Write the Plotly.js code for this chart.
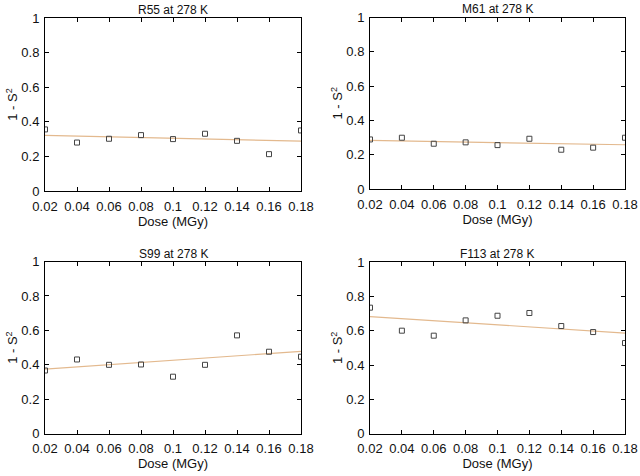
<!DOCTYPE html>
<html><head><meta charset="utf-8">
<script src="https://cdn.plot.ly/plotly-3.0.1.min.js"></script>
<style>html,body{margin:0;padding:0;background:#fff}#c{width:640px;height:476px}</style>
</head><body><div id="c"></div>
<script>
const dose = [0.02,0.04,0.06,0.08,0.10,0.12,0.14,0.16,0.18];
const titles = ["R55 at 278 K","M61 at 278 K","S99 at 278 K","F113 at 278 K"];
const r55 = [0.356,0.280,0.302,0.323,0.300,0.331,0.290,0.213,0.350];
const m61 = [0.289,0.299,0.264,0.272,0.256,0.293,0.229,0.241,0.299];
const s99 = [0.367,0.431,0.400,0.402,0.331,0.400,0.571,0.476,0.447];
const f113 = [0.734,0.600,0.571,0.660,0.687,0.703,0.627,0.592,0.528];
const fitX = [0.02,0.18];
const r55Fit = [0.321,0.288];
const m61Fit = [0.283,0.258];
const s99Fit = [0.375,0.478];
const f113Fit = [0.682,0.586];
const xTicks = [0.02,0.04,0.06,0.08,0.1,0.12,0.14,0.16,0.18];
const yTicks = [0,0.2,0.4,0.6,0.8,1];

const series = [r55,m61,s99,f113];
const fits = [r55Fit,m61Fit,s99Fit,f113Fit];
const xDom = [[45/640,301/640],[370/640,625/640],[45/640,301/640],[370/640,625/640]];
const yDom = [[1-191/476,1-18/476],[1-189/476,1-17.5/476],[1-433.7/476,1-261.5/476],[1-433.7/476,1-262/476]];

const font = {family:"Liberation Sans, Arial, sans-serif", size:13, color:"#111"};
const data = [];
const layout = {width:640,height:476,margin:{l:0,r:0,t:0,b:0},paper_bgcolor:"#fff",plot_bgcolor:"#fff",
  showlegend:false,font:font,annotations:[]};

for (let i=0;i<4;i++){
  const s = i===0?"":String(i+1);
  data.push({x:fitX,y:fits[i],type:"scatter",mode:"lines",line:{color:"#e3b98e",width:1.2},
    xaxis:"x"+s,yaxis:"y"+s,hoverinfo:"skip"});
  data.push({x:dose,y:series[i],type:"scatter",mode:"markers",
    marker:{symbol:"square-open",size:5,color:"#444",line:{width:1,color:"#444"}},
    xaxis:"x"+s,yaxis:"y"+s,cliponaxis:true});
  const ax = {domain:xDom[i],range:[0.02,0.18],tickmode:"array",tickvals:xTicks,
    ticktext:xTicks.map(v=>String(v)),ticks:"inside",ticklen:4,tickcolor:"#000",
    showline:true,linecolor:"#000",linewidth:1,mirror:"ticks",showgrid:false,zeroline:false,
    anchor:"y"+s,tickfont:{size:13},ticklabelstandoff:3,
    title:{text:"Dose (MGy)",font:{size:13},standoff:1}};
  const ay = {domain:yDom[i],range:[0,1],tickmode:"array",tickvals:yTicks,
    ticktext:yTicks.map(v=>String(v)),ticks:"inside",ticklen:4,tickcolor:"#000",
    showline:true,linecolor:"#000",linewidth:1,mirror:"ticks",showgrid:false,zeroline:false,
    anchor:"x"+s,tickfont:{size:13},ticklabelstandoff:2,
    title:{text:"1 - S<sup>2</sup>",font:{size:13},standoff:0}};
  layout["xaxis"+s]=ax; layout["yaxis"+s]=ay;
  layout.annotations.push({text:titles[i],xref:"paper",yref:"paper",
    x:(xDom[i][0]+xDom[i][1])/2,y:yDom[i][1],yanchor:"bottom",xanchor:"center",yshift:-1,
    showarrow:false,font:{size:12}});
}
Plotly.newPlot("c",data,layout,{displayModeBar:false,staticPlot:true});
</script></body></html>
